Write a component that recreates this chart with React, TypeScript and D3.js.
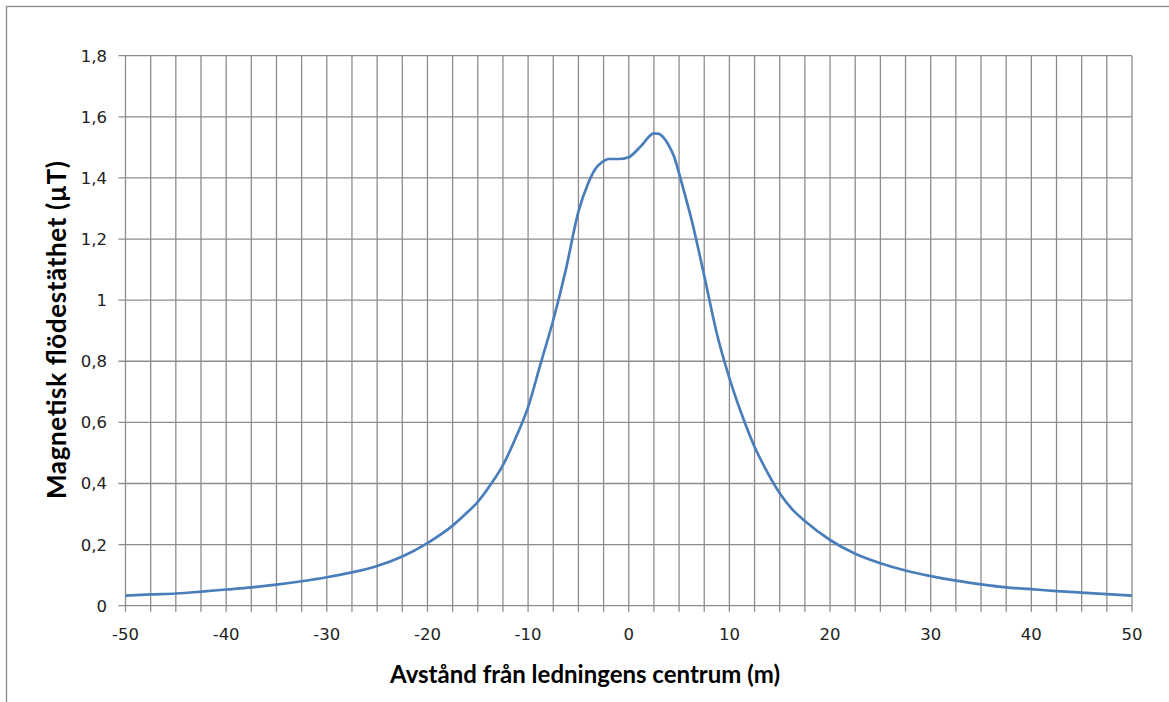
import React from "react";
import * as d3 from "d3";

const distances: number[] = [
  -50, -47.5, -45, -42.5, -40, -37.5, -35, -32.5, -30, -27.5, -25, -22.5, -20,
  -17.5, -16.25, -15, -13.75, -12.5, -11.25, -10, -8.75, -7.5, -6.25, -5, -4,
  -3.5, -2.5, -2, -1, 0, 1, 1.5, 2, 2.5, 3, 3.5, 4, 4.5, 5, 5.5, 6.25, 7.5,
  8.75, 10, 11.25, 12.5, 13.75, 15, 16.25, 17.5, 20, 22.5, 25, 27.5, 30, 32.5,
  35, 37.5, 40, 42.5, 45, 47.5, 50,
];
const fluxDensity: number[] = [
  0.033, 0.037, 0.04, 0.046, 0.053, 0.06, 0.069, 0.08, 0.093, 0.109, 0.13, 0.161,
  0.205, 0.262, 0.299, 0.34, 0.395, 0.46, 0.548, 0.65, 0.793, 0.935, 1.1, 1.29,
  1.385, 1.42, 1.455, 1.462, 1.462, 1.468, 1.497, 1.515, 1.535, 1.546, 1.544,
  1.53, 1.505, 1.47, 1.415, 1.355, 1.262, 1.08, 0.891, 0.745, 0.624, 0.52,
  0.438, 0.368, 0.315, 0.277, 0.215, 0.17, 0.139, 0.115, 0.097, 0.082, 0.07,
  0.06, 0.054, 0.048, 0.043, 0.038, 0.033,
];
const xTickLabels: number[] = [-50, -40, -30, -20, -10, 0, 10, 20, 30, 40, 50];
const yTickLabels: number[] = [0, 0.2, 0.4, 0.6, 0.8, 1, 1.2, 1.4, 1.6, 1.8];
const xGridValues: number[] = d3.range(-50, 50.001, 2.5);

const xTitle = "Avstånd från ledningens centrum (m)";
const yTitle = "Magnetisk flödestäthet (µT)";

export default function App() {
  const W = 1169;
  const H = 702;
  const left = 125.5;
  const right = 1132;
  const top = 55.7;
  const bottom = 605.7;

  const x = d3.scaleLinear().domain([-50, 50]).range([left, right]);
  const y = d3.scaleLinear().domain([0, 1.8]).range([bottom, top]);

  const pts: [number, number][] = distances.map((d, i) => [d, fluxDensity[i]]);
  const line = d3
    .line<[number, number]>()
    .x((d) => x(d[0]))
    .y((d) => y(d[1]))
    .curve(d3.curveMonotoneX);

  const grid = "#8c8c8c";
  const fmt = (v: number) => String(v).replace(".", ",");

  return (
    <svg
      width={W}
      height={H}
      style={{ position: "fixed", left: 0, top: 0, background: "#fff" }}
    >
      <rect x={0} y={0} width={W} height={H} fill="#fff" />
      <rect
        x={6.5}
        y={6.5}
        width={W + 20}
        height={H + 20}
        fill="none"
        stroke="#8a8a8a"
        strokeWidth={1.3}
      />
      {xGridValues.map((v) => (
        <line
          key={"vx" + v}
          x1={x(v)}
          x2={x(v)}
          y1={top}
          y2={bottom + 6}
          stroke={grid}
          strokeWidth={1.3}
        />
      ))}
      {yTickLabels.map((v) => (
        <line
          key={"hy" + v}
          x1={left - 7}
          x2={right}
          y1={y(v)}
          y2={y(v)}
          stroke={grid}
          strokeWidth={1.3}
        />
      ))}
      {yTickLabels.map((v) => (
        <text
          key={"yl" + v}
          x={107}
          y={y(v)}
          dy="0.36em"
          textAnchor="end"
          fontFamily="'DejaVu Sans', Verdana, sans-serif"
          fontSize={16.5}
          fill="#222"
        >
          {fmt(v)}
        </text>
      ))}
      {xTickLabels.map((v) => (
        <text
          key={"xl" + v}
          x={x(v)}
          y={640}
          textAnchor="middle"
          fontFamily="'DejaVu Sans', Verdana, sans-serif"
          fontSize={16.5}
          fill="#222"
        >
          {fmt(v)}
        </text>
      ))}
      <path
        d={line(pts) || ""}
        fill="none"
        stroke="#4a7ebb"
        strokeWidth={2.7}
        strokeLinejoin="round"
      />
      <text
        x={585}
        y={683}
        textAnchor="middle"
        fontFamily="Lato, 'Open Sans', sans-serif"
        fontWeight="bold"
        fontSize={24}
        fill="#000"
      >
        {xTitle}
      </text>
      <text
        transform={`translate(66,330) rotate(-90)`}
        textAnchor="middle"
        fontFamily="Lato, 'Open Sans', sans-serif"
        fontWeight="bold"
        fontSize={26}
        textLength={338}
        lengthAdjust="spacing"
        fill="#000"
      >
        {yTitle}
      </text>
    </svg>
  );
}
